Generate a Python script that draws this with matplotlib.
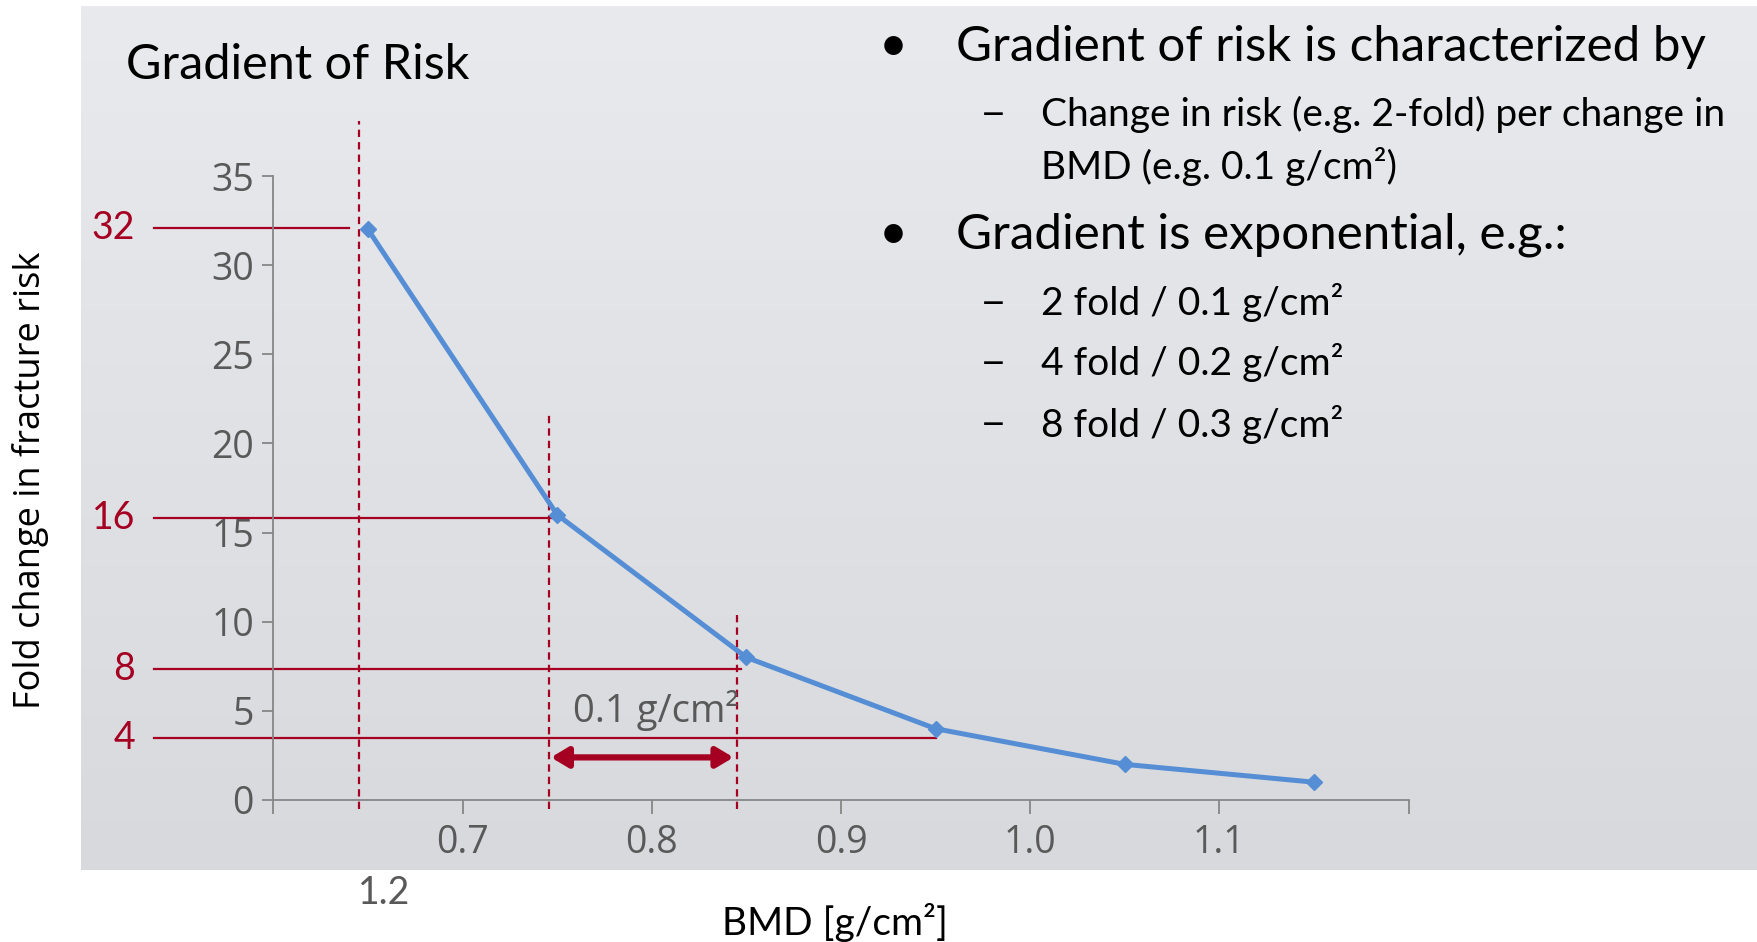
import numpy as np
import matplotlib
matplotlib.use("Agg")
import matplotlib.pyplot as plt
from matplotlib.colors import LinearSegmentedColormap

# data
bmd = [0.65, 0.75, 0.85, 0.95, 1.05, 1.15]
fold_change = [32, 16, 8, 4, 2, 1]

x_ticks = [0.6, 0.7, 0.8, 0.9, 1.0, 1.1, 1.2]
x_tick_labels = ["", "0.7", "0.8", "0.9", "1.0", "1.1", ""]
y_ticks = [0, 5, 10, 15, 20, 25, 30, 35]

# red guide annotations
guide_labels = ["32", "16", "8", "4"]
guide_levels = [32.1, 15.8, 7.35, 3.45]
guide_x_end = [0.640, 0.753, 0.847, 0.950]
dash_x = [0.645, 0.7455, 0.845]
dash_top = [38.1, 21.8, 10.6]
span_arrow = [0.7467, 0.8432]

bullets = ["Gradient of risk is characterized by", "Gradient is exponential, e.g.:"]
sub_first = ["Change in risk (e.g. 2-fold) per change in", "BMD (e.g. 0.1 g/cm\u00b2)"]
sub_second = ["2 fold / 0.1 g/cm\u00b2", "4 fold / 0.2 g/cm\u00b2", "8 fold / 0.3 g/cm\u00b2"]

W, H = 1757, 942
red = "#A50021"
grey = "#595959"
blue = "#558ED5"
font = "Lato"

fig = plt.figure(figsize=(W / 100, H / 100), dpi=100)

def fx(px):
    return px / W

def fy(py):
    return 1 - py / H

# slide background box with soft vertical gradient
bg = fig.add_axes([fx(81), fy(870), 1 - fx(81), (870 - 6) / H], zorder=0)
cmap = LinearSegmentedColormap.from_list("bg", ["#E9EAEE", "#D8D9DC"])
bg.imshow(np.linspace(0, 1, 256).reshape(-1, 1), aspect="auto", cmap=cmap,
          extent=[0, 1, 0, 1])
bg.axis("off")

ax = fig.add_axes([fx(273.4), fy(800), fx(1408.5) - fx(273.4), (800 - 176) / H], zorder=1)
ax.set_facecolor("none")
ax.set_xlim(0.6, 1.2)
ax.set_ylim(0, 35)

for s in ["top", "right"]:
    ax.spines[s].set_visible(False)
for s in ["left", "bottom"]:
    ax.spines[s].set_color("#868686")
    ax.spines[s].set_linewidth(1.3)

ax.set_xticks(x_ticks, labels=x_tick_labels, fontfamily="Open Sans")
ax.set_yticks(y_ticks, labels=[str(v) for v in y_ticks], fontfamily="Open Sans")
ax.tick_params(axis="x", length=10, width=1.3, color="#868686", pad=7,
               labelsize=27, labelcolor=grey)
ax.tick_params(axis="y", length=8, width=1.3, color="#868686", pad=6,
               labelsize=27, labelcolor=grey)

# red guides
for lvl, xe, lab in zip(guide_levels, guide_x_end, guide_labels):
    ax.plot([0.537, xe], [lvl, lvl], color=red, lw=1.6, clip_on=False, zorder=2)
    ax.text(0.527, lvl, lab, color=red, fontsize=27, family=font,
            ha="right", va="center", clip_on=False)
for xd, top in zip(dash_x, dash_top):
    ax.plot([xd, xd], [-0.5, top], color=red, lw=1.6, ls=(0, (3.3, 2.3)),
            clip_on=False, zorder=2)

ax.plot(bmd, fold_change, color=blue, lw=3.6, marker="D", markersize=8,
        zorder=3, clip_on=False)

ax.annotate("", xy=(span_arrow[1], 2.39), xytext=(span_arrow[0], 2.39),
            arrowprops=dict(arrowstyle="<|-|>,head_length=1.0,head_width=0.6",
                            color=red, lw=4.5, shrinkA=0, shrinkB=0))
ax.text(0.8023, 5.0, "0.1 g/cm\u00b2", color=grey,
        fontsize=27.5, family="Open Sans", ha="center", va="center")

# labels and slide text
fig.text(fx(31), fy(480), "Fold change in fracture risk", rotation=90,
         fontsize=26, family="Open Sans", ha="center", va="center")
fig.text(fx(835), fy(923), "BMD [g/cm\u00b2]", fontsize=28, family=font,
         ha="center", va="center")
fig.text(fx(384), fy(893), "1.2", fontsize=27, family=font, color=grey,
         ha="center", va="center")
fig.text(fx(126), fy(65), "Gradient of Risk", fontsize=35, family=font,
         ha="left", va="center")

for text, y, subs, sub_y in [(bullets[0], 47, sub_first, [114, 166]),
                             (bullets[1], 235, sub_second, [303, 363, 424])]:
    fig.text(fx(893), fy(y), "\u2022", fontsize=36, family=font, ha="center", va="center")
    fig.text(fx(956), fy(y), text, fontsize=35.5, family=font, ha="left", va="center")
    for i, (s, sy) in enumerate(zip(subs, sub_y)):
        if subs is sub_second or i == 0:
            fig.text(fx(993), fy(sy), "\u2014", fontsize=15, family="DejaVu Sans",
                     fontweight="bold", ha="center", va="center")
        fig.text(fx(1041), fy(sy), s, fontsize=28, family=font, ha="left", va="center")

fig.savefig("out.png", dpi=100)
